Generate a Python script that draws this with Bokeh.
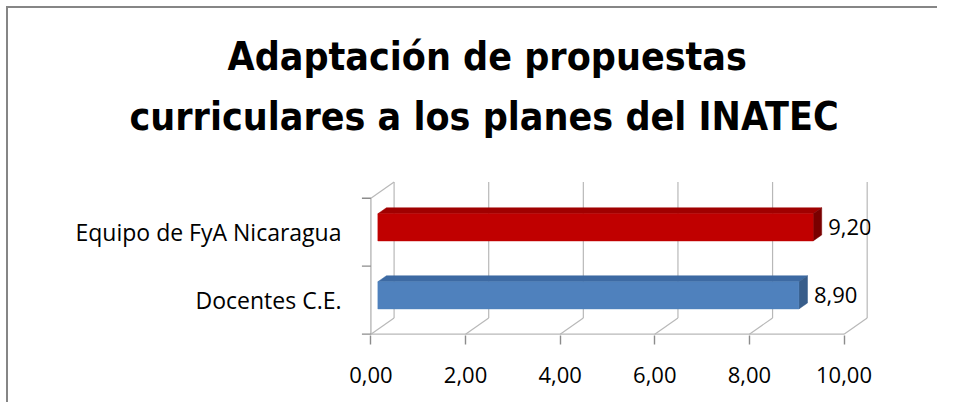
from bokeh.plotting import figure
from bokeh.models import FixedTicker, LabelSet, ColumnDataSource, Range1d, Title
from bokeh.core.properties import value
from bokeh.embed import file_html
from bokeh.resources import INLINE

# ---- data ----
categories = ["Docentes C.E.", "Equipo de FyA Nicaragua"]
values = [8.90, 9.20]
value_labels = ["8,90", "9,20"]
x_ticks = [0, 2, 4, 6, 8, 10]
x_tick_labels = ["0,00", "2,00", "4,00", "6,00", "8,00", "10,00"]
title_lines = ["Adaptación de propuestas", "curriculares a los planes del INATEC"]

# ---- style ----
face_colors = ["#4f81bd", "#c00000"]
top_colors = ["#3d6aa3", "#a00000"]
side_colors = ["#385d8a", "#7a0000"]
grid_color = "#b8b8b8"
DX, DY = 0.49, 0.237      # depth of the 3-D box (data units)
F1, F2 = 0.30, 0.67       # bar front / back depth fractions
H = 0.40                  # bar thickness
LABEL_FONT = "Open Sans"
TITLE_FONT = "'DejaVu Sans Condensed', 'DejaVu Sans'"

p = figure(width=931, height=396, output_backend="svg", toolbar_location=None,
           x_range=Range1d(-0.22, 10.56), y_range=Range1d(-0.02, 2.26),
           min_border_left=352, min_border_right=69,
           min_border_top=172, min_border_bottom=69)
p.outline_line_color = None
p.grid.visible = False
p.background_fill_color = "white"
p.border_fill_color = "white"
p.styles = {"margin-left": "6px", "margin-top": "6px",
            "border-left": "2px solid #868686", "border-top": "2px solid #868686"}

n = len(categories)
cat_y = [i + 0.5 for i in range(n)]
xmax = x_ticks[-1]

# back wall grid lines and floor diagonals
p.segment(x0=[t + DX for t in x_ticks], y0=[DY] * len(x_ticks),
          x1=[t + DX for t in x_ticks], y1=[n + DY] * len(x_ticks),
          line_color=grid_color, line_width=1.2)
p.segment(x0=x_ticks, y0=[0] * len(x_ticks),
          x1=[t + DX for t in x_ticks], y1=[DY] * len(x_ticks),
          line_color=grid_color, line_width=1.2)
# front baseline, left wall
p.segment(x0=[0], y0=[0], x1=[xmax], y1=[0], line_color=grid_color, line_width=1.4)
p.segment(x0=[0], y0=[0], x1=[0], y1=[n], line_color=grid_color, line_width=1.4)
p.segment(x0=[0], y0=[n], x1=[DX], y1=[n + DY], line_color=grid_color, line_width=1.2)
# category boundary ticks
bounds = list(range(n + 1))
p.segment(x0=[-0.19] * len(bounds), y0=bounds, x1=[0] * len(bounds), y1=bounds,
          line_color="#8c8c8c", line_width=1.4)

# 3-D bars
front_xs, front_ys, top_xs, top_ys, side_xs, side_ys = [], [], [], [], [], []
for c, v in zip(cat_y, values):
    y0 = c - H / 2
    y1 = c + H / 2
    fx0, fx1 = F1 * DX, v + F1 * DX
    fy0, fy1 = y0 + F1 * DY, y1 + F1 * DY
    bx0, bx1 = F2 * DX, v + F2 * DX
    by1 = y1 + F2 * DY
    by0 = y0 + F2 * DY
    front_xs.append([fx0, fx1, fx1, fx0]); front_ys.append([fy0, fy0, fy1, fy1])
    top_xs.append([fx0, fx1, bx1, bx0]); top_ys.append([fy1, fy1, by1, by1])
    side_xs.append([fx1, bx1, bx1, fx1]); side_ys.append([fy0, by0, by1, fy1])

p.patches(xs=top_xs, ys=top_ys, fill_color=top_colors, line_color=top_colors, line_width=0.5)
p.patches(xs=side_xs, ys=side_ys, fill_color=side_colors, line_color=side_colors, line_width=0.5)
p.patches(xs=front_xs, ys=front_ys, fill_color=face_colors, line_color=face_colors, line_width=0.5)

# value labels
src = ColumnDataSource(dict(x=values, y=[c + F1 * DY for c in cat_y], t=value_labels))
p.add_layout(LabelSet(x="x", y="y", text="t", source=src, x_offset=22,
                      text_baseline="middle", text_align="left",
                      text_font=value(LABEL_FONT), text_font_size=value("22px"),
                      text_color="black"))

# axes
p.xaxis.ticker = FixedTicker(ticks=x_ticks)
p.xaxis.major_label_overrides = dict(zip(x_ticks, x_tick_labels))
p.xaxis.axis_line_color = None
p.xaxis.major_tick_line_color = "#8c8c8c"
p.xaxis.major_tick_line_width = 1.4
p.xaxis.major_tick_out = 9
p.xaxis.major_tick_in = 0
p.xaxis.minor_tick_line_color = None
p.xaxis.major_label_standoff = 22
p.xaxis.major_label_text_font = LABEL_FONT
p.xaxis.major_label_text_font_size = "22px"
p.xaxis.major_label_text_color = "black"

p.yaxis.ticker = FixedTicker(ticks=cat_y)
p.yaxis.major_label_overrides = dict(zip(cat_y, categories))
p.yaxis.axis_line_color = None
p.yaxis.major_tick_line_color = None
p.yaxis.major_tick_out = 0
p.yaxis.major_tick_in = 0
p.yaxis.minor_tick_line_color = None
p.yaxis.major_label_standoff = 19
p.yaxis.major_label_text_font = LABEL_FONT
p.yaxis.major_label_text_font_size = "23px"
p.yaxis.major_label_text_color = "black"

# title (two lines); first added sits nearest the plot
p.add_layout(Title(text=" ", text_font_size="2px", standoff=32), "above")
for txt, off, stand in [(title_lines[1], -231, 12), (title_lines[0], -133, 13)]:
    p.add_layout(Title(text=txt, align="left", offset=off, standoff=stand,
                       text_font=TITLE_FONT, text_font_style="bold",
                       text_font_size="39px", text_color="black"), "above")

open("out.html", "w").write(file_html(p, INLINE))
